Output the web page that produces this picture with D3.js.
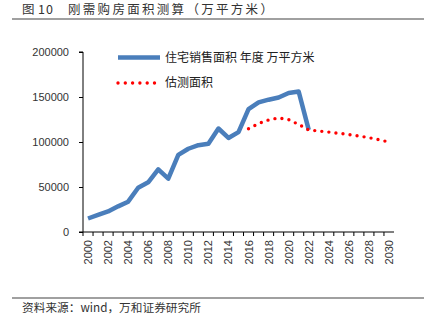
<!DOCTYPE html>
<html>
<head>
<meta charset="utf-8">
<script src="https://cdn.jsdelivr.net/npm/d3@7/dist/d3.min.js"></script>
<style>
  body { margin: 0; background: #fff; }
  text { font-family: "Liberation Sans", Arial, sans-serif; }
  .cjk { font-family: "Noto Sans CJK SC", sans-serif; }
</style>
</head>
<body>
<div id="chart"></div>
<script>
// data (万平方米)
var years = d3.range(2000, 2031);
var salesYears = d3.range(2000, 2023);
var salesArea = [15000, 19000, 22800, 28500, 33700, 49200, 55200, 69600, 59300, 85600,
  92500, 96500, 98000, 115000, 104500, 111000, 136500, 144000, 147000, 149500,
  154500, 156000, 113500];
var estYears = d3.range(2016, 2031);
var estArea = [114800, 120500, 124500, 126800, 124800, 119500, 113300, 112200, 111000,
  109700, 108300, 106700, 104800, 102500, 100000];
var yTicks = [0, 50000, 100000, 150000, 200000];

var svgWidth = 432, svgHeight = 326;
var svg = d3.select("#chart").append("svg")
  .attr("width", svgWidth)
  .attr("height", svgHeight);

// title + rules
svg.append("text").attr("class", "cjk")
  .attr("x", 22).attr("y", 14)
  .attr("font-size", 12.5).attr("fill", "#333")
  .text("图");
svg.append("text").attr("class", "cjk")
  .attr("x", 38).attr("y", 14)
  .attr("font-size", 12.5).attr("letter-spacing", 1).attr("fill", "#333")
  .text("10");
svg.append("text").attr("class", "cjk")
  .attr("x", 68).attr("y", 14)
  .attr("font-size", 12.5).attr("letter-spacing", 2.3).attr("fill", "#333")
  .text("刚需购房面积测算（万平方米）");
svg.append("line").attr("x1", 12).attr("x2", 424).attr("y1", 19).attr("y2", 19)
  .attr("stroke", "#808080").attr("stroke-width", 1.5);
svg.append("line").attr("x1", 12).attr("x2", 424).attr("y1", 298).attr("y2", 298)
  .attr("stroke", "#808080").attr("stroke-width", 1.5);
svg.append("text").attr("class", "cjk")
  .attr("x", 22).attr("y", 312)
  .attr("font-size", 11.7).attr("fill", "#333")
  .text("资料来源：wind，万和证券研究所");

// scales
var x = d3.scaleBand().domain(years).range([83, 394]);
var y = d3.scaleLinear().domain([0, 200000]).range([232, 52]);
var cx = d => x(d) + x.bandwidth() / 2;

// y axis
var yAxis = svg.append("g").attr("transform", "translate(83,0)")
  .call(d3.axisLeft(y).tickValues(yTicks).tickSize(4).tickPadding(10).tickFormat(d3.format("d")));
yAxis.select(".domain").attr("stroke", "#000").attr("d", "M-4,52H0V232H-4");
yAxis.selectAll("text").attr("font-size", 11).attr("fill", "#333")
  .style("font-family", "'Liberation Sans', Arial, sans-serif");

// x axis
svg.append("line").attr("x1", 83).attr("x2", 394).attr("y1", 232).attr("y2", 232)
  .attr("stroke", "#000");
svg.selectAll("line.xtick").data(years).enter().append("line")
  .attr("class", "xtick")
  .attr("x1", d => x(d)).attr("x2", d => x(d))
  .attr("y1", 232).attr("y2", 236).attr("stroke", "#000");
svg.selectAll("text.xlab").data(years.filter(d => d % 2 === 0)).enter().append("text")
  .attr("class", "xlab")
  .attr("transform", d => "translate(" + (cx(d) + 4) + ",240) rotate(-90)")
  .attr("text-anchor", "end")
  .attr("font-size", 11).attr("fill", "#333")
  .text(d => d);

// series
var line = d3.line().x(d => cx(d[0])).y(d => y(d[1]));
svg.append("path")
  .datum(salesYears.map((d, i) => [d, salesArea[i]]))
  .attr("d", line)
  .attr("fill", "none").attr("stroke", "#4a7ebb").attr("stroke-width", 4.5)
  .attr("stroke-linejoin", "round");
svg.append("path")
  .datum(estYears.map((d, i) => [d, estArea[i]]))
  .attr("d", line)
  .attr("fill", "none").attr("stroke", "#ff0000").attr("stroke-width", 3.4)
  .attr("stroke-linecap", "round").attr("stroke-dasharray", "0 7.1");

// legend
svg.append("line").attr("x1", 118).attr("x2", 160).attr("y1", 57.5).attr("y2", 57.5)
  .attr("stroke", "#4a7ebb").attr("stroke-width", 4.5);
svg.append("line").attr("x1", 118).attr("x2", 155).attr("y1", 83).attr("y2", 83)
  .attr("stroke", "#ff0000").attr("stroke-width", 3.4)
  .attr("stroke-linecap", "round").attr("stroke-dasharray", "0 7.3");
svg.append("text").attr("class", "cjk")
  .attr("x", 165).attr("y", 62)
  .attr("font-size", 12).attr("fill", "#222")
  .text("住宅销售面积 年度 万平方米");
svg.append("text").attr("class", "cjk")
  .attr("x", 165).attr("y", 87)
  .attr("font-size", 12).attr("fill", "#222")
  .text("估测面积");
</script>
</body>
</html>
